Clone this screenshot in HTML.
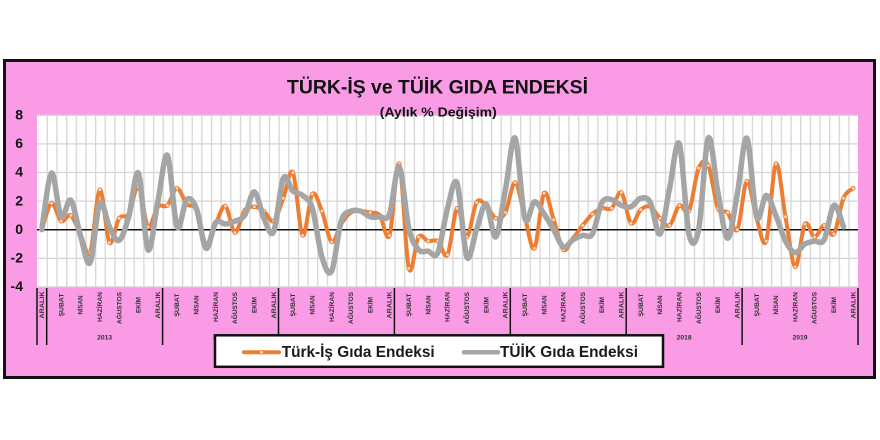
<!DOCTYPE html>
<html>
<head>
<meta charset="utf-8">
<style>
html,body{margin:0;padding:0;background:#fff;}
svg{display:block;}
text{font-family:"Liberation Sans","DejaVu Sans",sans-serif;}
.or{fill:none;stroke:#ED7D31;stroke-width:4;stroke-linejoin:round;stroke-linecap:round;marker-start:url(#m);marker-mid:url(#m);marker-end:url(#m);}
.gr{fill:none;stroke:#A5A5A5;stroke-width:5.5;stroke-linejoin:round;stroke-linecap:round;}
.ml{font-size:6px;font-weight:bold;fill:#333;}
.yl{font-size:14px;font-weight:bold;fill:#111;}
.yr{font-size:6.5px;font-weight:bold;fill:#333;}
</style>
</head>
<body>
<svg width="880" height="440" viewBox="0 0 880 440" xmlns="http://www.w3.org/2000/svg">
<defs>
<marker id="m" markerWidth="6" markerHeight="6" refX="3" refY="3" markerUnits="userSpaceOnUse">
<circle cx="3" cy="3" r="1.9" fill="#FBD9C0" stroke="#ED7D31" stroke-width="0.9"/>
</marker>
<pattern id="vg" x="37" y="0" width="9.659" height="440" patternUnits="userSpaceOnUse">
<rect x="0" y="0" width="1.3" height="440" fill="#D6D6D6"/>
</pattern>
</defs>

<rect x="0" y="0" width="880" height="440" fill="#fff"/>
<!-- frame -->
<rect x="4.5" y="60.5" width="870" height="317" fill="#F99BE5" stroke="#111" stroke-width="3"/>

<!-- plot area -->
<rect x="37" y="115" width="821" height="172" fill="#fff"/>
<rect x="38" y="115" width="820" height="172" fill="url(#vg)"/>
<g stroke="#D6D6D6" stroke-width="1.3">
<line x1="37" y1="115.3" x2="858" y2="115.3"/>
<line x1="37" y1="143.9" x2="858" y2="143.9"/>
<line x1="37" y1="172.5" x2="858" y2="172.5"/>
<line x1="37" y1="201.1" x2="858" y2="201.1"/>
<line x1="37" y1="258.3" x2="858" y2="258.3"/>
<line x1="37" y1="286.9" x2="858" y2="286.9"/>
</g>
<line x1="37" y1="229.7" x2="858" y2="229.7" stroke="#111" stroke-width="1.5"/>

<!-- series -->
<polyline id="so" class="or" points="41.8,229.7 51.5,203.2 61.1,221.1 70.8,215.4 80.4,234.0 90.1,252.6 99.8,189.7 109.4,242.6 119.1,218.3 128.7,214.0 138.4,186.8 148.0,226.8 157.7,206.8 167.4,205.4 177.0,188.2 186.7,204.0 196.3,209.7 206.0,244.0 215.7,224.0 225.3,206.1 235.0,232.6 244.6,210.4 254.3,206.8 263.9,211.1 273.6,221.1 283.3,198.2 292.9,172.5 302.6,235.4 312.3,194.0 321.9,211.1 331.6,241.9 341.2,224.0 350.9,212.5 360.6,211.1 370.2,212.5 379.9,215.4 389.5,235.4 399.2,163.9 408.8,268.3 418.5,236.9 428.2,241.1 437.8,241.1 447.5,254.7 457.1,208.3 466.8,236.9 476.5,202.5 486.1,205.4 495.8,218.3 505.4,212.5 515.1,182.5 524.8,216.8 534.4,248.3 544.1,193.2 553.7,219.7 563.4,249.7 573.0,238.3 582.7,225.4 592.4,214.0 602.0,208.3 611.7,208.3 621.3,192.5 631.0,223.3 640.7,209.7 650.3,206.8 660.0,218.3 669.6,225.4 679.3,205.4 689.0,211.1 698.6,168.2 708.3,165.4 717.9,208.3 727.6,212.5 737.3,229.7 746.9,181.1 756.6,218.3 766.2,241.1 775.9,163.9 785.5,216.8 795.2,266.9 804.9,224.0 814.5,236.9 824.2,225.4 833.9,234.0 843.5,198.2 853.2,188.2"/>
<polyline id="sg" class="gr" points="41.8,229.7 51.5,173.2 61.1,216.8 70.8,200.1 80.4,235.4 90.1,262.6 99.8,203.2 109.4,226.8 119.1,240.4 128.7,216.8 138.4,173.2 148.0,249.7 157.7,202.5 167.4,155.3 177.0,226.8 186.7,199.7 196.3,208.3 206.0,248.3 215.7,222.5 225.3,224.0 235.0,221.1 244.6,215.4 254.3,191.8 263.9,218.3 273.6,231.8 283.3,178.2 292.9,191.1 302.6,195.4 312.3,208.3 321.9,256.9 331.6,271.2 341.2,221.1 350.9,211.1 360.6,211.1 370.2,216.8 379.9,216.8 389.5,214.0 399.2,166.8 408.8,228.3 418.5,249.7 428.2,251.2 437.8,252.6 447.5,208.3 457.1,183.2 466.8,256.9 476.5,229.7 486.1,204.0 495.8,236.9 505.4,189.7 515.1,138.2 524.8,218.3 534.4,201.8 544.1,214.0 553.7,229.7 563.4,246.9 573.0,239.7 582.7,235.4 592.4,234.0 602.0,202.5 611.7,199.7 621.3,205.4 631.0,206.8 640.7,198.2 650.3,202.5 660.0,234.0 669.6,188.2 679.3,143.9 689.0,234.0 698.6,229.7 708.3,138.2 717.9,192.5 727.6,238.3 737.3,194.0 746.9,138.2 756.6,216.8 766.2,195.4 775.9,215.4 785.5,241.1 795.2,252.6 804.9,244.0 814.5,241.1 824.2,239.7 833.9,205.4 843.5,226.8"/>

<!-- y axis labels -->
<g class="yl" text-anchor="end">
<text x="23" y="119.5">8</text>
<text x="23" y="148.1">6</text>
<text x="23" y="176.7">4</text>
<text x="23" y="205.3">2</text>
<text x="23" y="233.9">0</text>
<text x="23" y="262.5">-2</text>
<text x="23" y="291.1">-4</text>
</g>

<!-- month labels -->
<g class="ml" text-anchor="middle">
<text transform="translate(44.0,305) rotate(-90)" textLength="27" lengthAdjust="spacingAndGlyphs">ARALIK</text>
<text transform="translate(63.3,305) rotate(-90)" textLength="23" lengthAdjust="spacingAndGlyphs">ŞUBAT</text>
<text transform="translate(82.6,305) rotate(-90)" textLength="19" lengthAdjust="spacingAndGlyphs">NİSAN</text>
<text transform="translate(102.0,307) rotate(-90)" textLength="30" lengthAdjust="spacingAndGlyphs">HAZİRAN</text>
<text transform="translate(121.3,308) rotate(-90)" textLength="32" lengthAdjust="spacingAndGlyphs">AĞUSTOS</text>
<text transform="translate(140.6,305) rotate(-90)" textLength="16" lengthAdjust="spacingAndGlyphs">EKİM</text>
<text transform="translate(159.9,305) rotate(-90)" textLength="27" lengthAdjust="spacingAndGlyphs">ARALIK</text>
<text transform="translate(179.2,305) rotate(-90)" textLength="23" lengthAdjust="spacingAndGlyphs">ŞUBAT</text>
<text transform="translate(198.5,305) rotate(-90)" textLength="19" lengthAdjust="spacingAndGlyphs">NİSAN</text>
<text transform="translate(217.9,307) rotate(-90)" textLength="30" lengthAdjust="spacingAndGlyphs">HAZİRAN</text>
<text transform="translate(237.2,308) rotate(-90)" textLength="32" lengthAdjust="spacingAndGlyphs">AĞUSTOS</text>
<text transform="translate(256.5,305) rotate(-90)" textLength="16" lengthAdjust="spacingAndGlyphs">EKİM</text>
<text transform="translate(275.8,305) rotate(-90)" textLength="27" lengthAdjust="spacingAndGlyphs">ARALIK</text>
<text transform="translate(295.1,305) rotate(-90)" textLength="23" lengthAdjust="spacingAndGlyphs">ŞUBAT</text>
<text transform="translate(314.5,305) rotate(-90)" textLength="19" lengthAdjust="spacingAndGlyphs">NİSAN</text>
<text transform="translate(333.8,307) rotate(-90)" textLength="30" lengthAdjust="spacingAndGlyphs">HAZİRAN</text>
<text transform="translate(353.1,308) rotate(-90)" textLength="32" lengthAdjust="spacingAndGlyphs">AĞUSTOS</text>
<text transform="translate(372.4,305) rotate(-90)" textLength="16" lengthAdjust="spacingAndGlyphs">EKİM</text>
<text transform="translate(391.7,305) rotate(-90)" textLength="27" lengthAdjust="spacingAndGlyphs">ARALIK</text>
<text transform="translate(411.0,305) rotate(-90)" textLength="23" lengthAdjust="spacingAndGlyphs">ŞUBAT</text>
<text transform="translate(430.4,305) rotate(-90)" textLength="19" lengthAdjust="spacingAndGlyphs">NİSAN</text>
<text transform="translate(449.7,307) rotate(-90)" textLength="30" lengthAdjust="spacingAndGlyphs">HAZİRAN</text>
<text transform="translate(469.0,308) rotate(-90)" textLength="32" lengthAdjust="spacingAndGlyphs">AĞUSTOS</text>
<text transform="translate(488.3,305) rotate(-90)" textLength="16" lengthAdjust="spacingAndGlyphs">EKİM</text>
<text transform="translate(507.6,305) rotate(-90)" textLength="27" lengthAdjust="spacingAndGlyphs">ARALIK</text>
<text transform="translate(527.0,305) rotate(-90)" textLength="23" lengthAdjust="spacingAndGlyphs">ŞUBAT</text>
<text transform="translate(546.3,305) rotate(-90)" textLength="19" lengthAdjust="spacingAndGlyphs">NİSAN</text>
<text transform="translate(565.6,307) rotate(-90)" textLength="30" lengthAdjust="spacingAndGlyphs">HAZİRAN</text>
<text transform="translate(584.9,308) rotate(-90)" textLength="32" lengthAdjust="spacingAndGlyphs">AĞUSTOS</text>
<text transform="translate(604.2,305) rotate(-90)" textLength="16" lengthAdjust="spacingAndGlyphs">EKİM</text>
<text transform="translate(623.5,305) rotate(-90)" textLength="27" lengthAdjust="spacingAndGlyphs">ARALIK</text>
<text transform="translate(642.9,305) rotate(-90)" textLength="23" lengthAdjust="spacingAndGlyphs">ŞUBAT</text>
<text transform="translate(662.2,305) rotate(-90)" textLength="19" lengthAdjust="spacingAndGlyphs">NİSAN</text>
<text transform="translate(681.5,307) rotate(-90)" textLength="30" lengthAdjust="spacingAndGlyphs">HAZİRAN</text>
<text transform="translate(700.8,308) rotate(-90)" textLength="32" lengthAdjust="spacingAndGlyphs">AĞUSTOS</text>
<text transform="translate(720.1,305) rotate(-90)" textLength="16" lengthAdjust="spacingAndGlyphs">EKİM</text>
<text transform="translate(739.5,305) rotate(-90)" textLength="27" lengthAdjust="spacingAndGlyphs">ARALIK</text>
<text transform="translate(758.8,305) rotate(-90)" textLength="23" lengthAdjust="spacingAndGlyphs">ŞUBAT</text>
<text transform="translate(778.1,305) rotate(-90)" textLength="19" lengthAdjust="spacingAndGlyphs">NİSAN</text>
<text transform="translate(797.4,307) rotate(-90)" textLength="30" lengthAdjust="spacingAndGlyphs">HAZİRAN</text>
<text transform="translate(816.7,308) rotate(-90)" textLength="32" lengthAdjust="spacingAndGlyphs">AĞUSTOS</text>
<text transform="translate(836.1,305) rotate(-90)" textLength="16" lengthAdjust="spacingAndGlyphs">EKİM</text>
<text transform="translate(855.4,305) rotate(-90)" textLength="27" lengthAdjust="spacingAndGlyphs">ARALIK</text>
</g>

<!-- group separators -->
<g stroke="#111" stroke-width="1.5">
<line x1="37" y1="288" x2="37" y2="345"/>
<line x1="46.7" y1="288" x2="46.7" y2="345"/>
<line x1="162.6" y1="288" x2="162.6" y2="345"/>
<line x1="278.5" y1="288" x2="278.5" y2="345"/>
<line x1="394.4" y1="288" x2="394.4" y2="345"/>
<line x1="510.3" y1="288" x2="510.3" y2="345"/>
<line x1="626.2" y1="288" x2="626.2" y2="345"/>
<line x1="742.1" y1="288" x2="742.1" y2="345"/>
<line x1="858" y1="288" x2="858" y2="345"/>
</g>

<!-- years -->
<g class="yr" text-anchor="middle">
<text x="104.6" y="339.5" textLength="15" lengthAdjust="spacingAndGlyphs">2013</text>
<text x="220.5" y="339.5" textLength="15" lengthAdjust="spacingAndGlyphs">2014</text>
<text x="336.4" y="339.5" textLength="15" lengthAdjust="spacingAndGlyphs">2015</text>
<text x="452.3" y="339.5" textLength="15" lengthAdjust="spacingAndGlyphs">2016</text>
<text x="568.2" y="339.5" textLength="15" lengthAdjust="spacingAndGlyphs">2017</text>
<text x="684.1" y="339.5" textLength="15" lengthAdjust="spacingAndGlyphs">2018</text>
<text x="800.0" y="339.5" textLength="15" lengthAdjust="spacingAndGlyphs">2019</text>
</g>

<!-- titles -->
<text x="437.5" y="93.3" text-anchor="middle" font-size="19.5" font-weight="bold" fill="#111" textLength="301" lengthAdjust="spacingAndGlyphs">TÜRK-İŞ ve TÜİK GIDA ENDEKSİ</text>
<text x="438.3" y="116.7" text-anchor="middle" font-size="13" font-weight="bold" fill="#111" textLength="117" lengthAdjust="spacingAndGlyphs">(Aylık  % Değişim)</text>

<!-- legend -->
<rect x="215" y="335.3" width="448" height="31.5" fill="#fff" stroke="#111" stroke-width="2.5"/>
<line x1="244" y1="352.3" x2="279" y2="352.3" stroke="#ED7D31" stroke-width="4" stroke-linecap="round"/>
<circle cx="261.5" cy="352.3" r="1.9" fill="#FBD9C0" stroke="#ED7D31" stroke-width="0.9"/>
<text x="281.7" y="357" font-size="16" font-weight="bold" fill="#1a1a1a" textLength="153" lengthAdjust="spacingAndGlyphs">Türk-İş Gıda Endeksi</text>
<line x1="464" y1="352.3" x2="498" y2="352.3" stroke="#A5A5A5" stroke-width="4.5" stroke-linecap="round"/>
<text x="500" y="357" font-size="16" font-weight="bold" fill="#1a1a1a" textLength="138" lengthAdjust="spacingAndGlyphs">TÜİK Gıda Endeksi</text>
</svg>
<script>
(function(){
function sm(id){
  var el=document.getElementById(id); if(!el) return;
  var p=el.getAttribute('points').trim().split(/\s+/).map(function(s){return s.split(',').map(Number);});
  var d='M'+p[0][0]+','+p[0][1];
  for(var i=0;i<p.length-1;i++){
    var a=p[i-1]||p[i],b=p[i],c=p[i+1],e=p[i+2]||c;
    var c1x=b[0]+(c[0]-a[0])/6,c1y=b[1]+(c[1]-a[1])/6;
    var c2x=c[0]-(e[0]-b[0])/6,c2y=c[1]-(e[1]-b[1])/6;
    d+='C'+c1x.toFixed(2)+','+c1y.toFixed(2)+' '+c2x.toFixed(2)+','+c2y.toFixed(2)+' '+c[0]+','+c[1];
  }
  var path=document.createElementNS('http://www.w3.org/2000/svg','path');
  path.setAttribute('d',d);
  path.setAttribute('class',el.getAttribute('class'));
  el.parentNode.replaceChild(path,el);
}
try{sm('so');sm('sg');}catch(e){}
})();
</script>
</body>
</html>
